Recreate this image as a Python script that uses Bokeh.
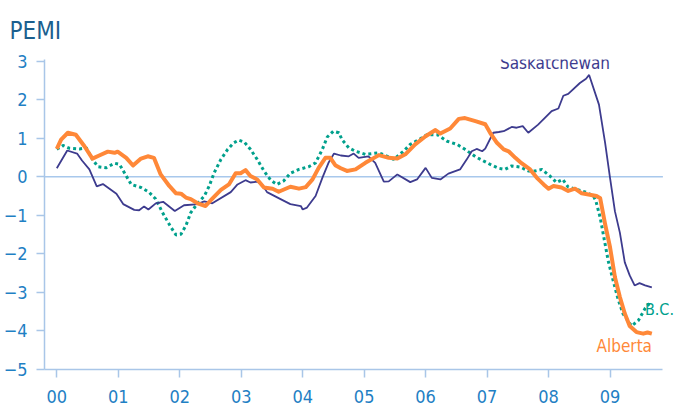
from bokeh.plotting import figure
from bokeh.models import Range1d, Label, FixedTicker
from bokeh.embed import file_html
from bokeh.resources import INLINE

# years since 2000
sask_x = [0.00, 0.17, 0.33, 0.41, 0.53, 0.65, 0.75, 0.97, 1.08, 1.26, 1.34, 1.42, 1.49, 1.61, 1.73,
          1.92, 2.07, 2.26, 2.40, 2.53, 2.83, 2.94, 3.07, 3.15, 3.26, 3.34, 3.42, 3.64, 3.80, 3.97,
          4.00, 4.07, 4.21, 4.32, 4.42, 4.51, 4.62, 4.75, 4.83, 4.91, 5.07, 5.18, 5.32, 5.40, 5.54,
          5.75, 5.86, 6.00, 6.10, 6.24, 6.37, 6.56, 6.67, 6.75, 6.83, 6.92, 6.97, 7.10, 7.19, 7.27,
          7.40, 7.48, 7.58, 7.67, 7.83, 8.05, 8.16, 8.24, 8.32, 8.51, 8.61, 8.66, 8.82, 8.92, 9.00,
          9.08, 9.16, 9.24, 9.32, 9.40, 9.48, 9.57, 9.68]
sask_y = [0.22, 0.68, 0.60, 0.42, 0.19, -0.25, -0.19, -0.44, -0.71, -0.86, -0.87, -0.77, -0.85, -0.69, -0.65,
          -0.89, -0.74, -0.72, -0.64, -0.69, -0.40, -0.20, -0.09, -0.15, -0.13, -0.20, -0.40, -0.58, -0.71, -0.76,
          -0.85, -0.80, -0.50, -0.03, 0.36, 0.60, 0.55, 0.53, 0.60, 0.49, 0.53, 0.36, -0.13, -0.12, 0.06,
          -0.14, -0.07, 0.23, -0.03, -0.07, 0.08, 0.19, 0.45, 0.66, 0.72, 0.66, 0.73, 1.14, 1.16, 1.18,
          1.29, 1.27, 1.31, 1.14, 1.35, 1.70, 1.77, 2.10, 2.15, 2.43, 2.54, 2.64, 1.87, 0.88, -0.03,
          -0.90, -1.45, -2.22, -2.56, -2.82, -2.76, -2.82, -2.87]

alta_x = [0.00, 0.07, 0.18, 0.31, 0.45, 0.58, 0.69, 0.83, 0.94, 0.99, 1.13, 1.24, 1.37, 1.48, 1.58,
          1.69, 1.83, 1.94, 2.02, 2.10, 2.18, 2.29, 2.42, 2.53, 2.67, 2.80, 2.91, 2.99, 3.07, 3.15,
          3.26, 3.37, 3.51, 3.61, 3.80, 3.94, 4.05, 4.16, 4.26, 4.37, 4.45, 4.53, 4.62, 4.72, 4.86,
          5.02, 5.24, 5.40, 5.54, 5.67, 5.83, 6.00, 6.16, 6.24, 6.40, 6.54, 6.64, 6.81, 6.97, 7.05,
          7.16, 7.27, 7.35, 7.46, 7.56, 7.70, 7.81, 7.92, 8.00, 8.08, 8.21, 8.32, 8.43, 8.54, 8.65,
          8.78, 8.84, 8.92, 9.00, 9.08, 9.16, 9.24, 9.32, 9.43, 9.54, 9.61, 9.68]
alta_y = [0.72, 0.96, 1.14, 1.09, 0.79, 0.47, 0.55, 0.65, 0.62, 0.65, 0.49, 0.29, 0.47, 0.53, 0.49,
          0.06, -0.24, -0.43, -0.44, -0.54, -0.58, -0.69, -0.76, -0.57, -0.34, -0.20, 0.09, 0.09, 0.17, 0.02,
          -0.07, -0.28, -0.31, -0.39, -0.26, -0.31, -0.27, -0.07, 0.23, 0.49, 0.49, 0.30, 0.22, 0.15, 0.19,
          0.36, 0.56, 0.49, 0.47, 0.58, 0.84, 1.05, 1.21, 1.12, 1.25, 1.50, 1.52, 1.44, 1.36, 1.14,
          0.88, 0.71, 0.66, 0.49, 0.35, 0.19, -0.03, -0.20, -0.31, -0.24, -0.28, -0.37, -0.31, -0.43, -0.46,
          -0.50, -0.56, -1.23, -1.83, -2.61, -3.12, -3.55, -3.87, -4.03, -4.07, -4.04, -4.07]

bc_x = [0.00, 0.10, 0.20, 0.37, 0.48, 0.58, 0.67, 0.80, 0.94, 1.02, 1.13, 1.21, 1.37, 1.50, 1.61,
        1.72, 1.86, 1.94, 2.02, 2.10, 2.18, 2.29, 2.40, 2.48, 2.56, 2.67, 2.78, 2.88, 2.96, 3.05,
        3.15, 3.26, 3.37, 3.48, 3.58, 3.69, 3.80, 3.94, 4.10, 4.21, 4.32, 4.40, 4.50, 4.59, 4.64,
        4.75, 4.86, 5.02, 5.24, 5.35, 5.48, 5.64, 5.75, 5.89, 6.02, 6.19, 6.35, 6.51, 6.64, 6.81,
        6.94, 7.05, 7.19, 7.29, 7.40, 7.54, 7.67, 7.78, 7.89, 8.02, 8.13, 8.23, 8.32, 8.46, 8.62,
        8.73, 8.77, 8.84, 8.89, 8.97, 9.05, 9.13, 9.21, 9.35, 9.46, 9.57, 9.66]
bc_y = [0.71, 0.81, 0.74, 0.72, 0.75, 0.45, 0.26, 0.23, 0.35, 0.32, 0.02, -0.20, -0.28, -0.40, -0.58,
        -0.93, -1.32, -1.51, -1.49, -1.27, -0.93, -0.69, -0.50, -0.24, 0.10, 0.45, 0.71, 0.88, 0.95, 0.90,
        0.71, 0.45, 0.15, -0.09, -0.20, -0.11, 0.09, 0.19, 0.26, 0.36, 0.71, 1.03, 1.18, 1.14, 0.96,
        0.75, 0.66, 0.58, 0.62, 0.55, 0.45, 0.66, 0.84, 0.96, 1.09, 1.09, 0.92, 0.84, 0.71, 0.52,
        0.41, 0.32, 0.22, 0.19, 0.28, 0.25, 0.15, 0.15, 0.19, 0.02, -0.15, -0.07, -0.27, -0.33, -0.41,
        -0.50, -0.63, -1.06, -1.49, -2.18, -2.69, -3.17, -3.55, -3.87, -3.73, -3.42, -3.25]

x_ticks = [0, 1, 2, 3, 4, 5, 6, 7, 8, 9]
x_tick_labels = ["00", "01", "02", "03", "04", "05", "06", "07", "08", "09"]
y_ticks = [-5, -4, -3, -2, -1, 0, 1, 2, 3]
x_axis_span = [-0.2, 9.86]   # extent of the drawn x axis
zero_level = [0, 0]

FONT = "'DejaVu Sans Condensed', Roboto, sans-serif"
SASK_C = "#3d3b8e"
ALTA_C = "#ff8838"
BC_C = "#00a08c"
TICK_C = "#1f80c4"
AXIS_C = "#a9c6e8"

p = figure(width=675, height=407, output_backend="svg", toolbar_location=None,
           x_range=Range1d(-0.2, 10.065), y_range=Range1d(-5, 3.04),
           min_border_left=35, min_border_right=0, min_border_top=58, min_border_bottom=38)
p.outline_line_color = None
p.xgrid.visible = False
p.ygrid.visible = False
p.background_fill_color = "white"

p.title.text = "PEMI"
p.title.text_font = FONT
p.title.text_font_size = "24px"
p.title.text_font_style = "normal"
p.title.text_color = "#1b5f8e"
p.title.align = "left"
p.title.offset = -35
p.title.standoff = 29

for ax in (p.xaxis[0], p.yaxis[0]):
    ax.axis_line_color = AXIS_C
    ax.axis_line_width = 1.5
    ax.major_tick_line_color = AXIS_C
    ax.major_tick_line_width = 1.5
    ax.major_tick_in = 0
    ax.major_tick_out = 8
    ax.minor_tick_line_color = None
    ax.major_label_text_font = FONT
    ax.major_label_text_font_size = "18px"
    ax.major_label_text_color = TICK_C

p.xaxis.ticker = FixedTicker(ticks=x_ticks)
p.xaxis.bounds = (x_axis_span[0], x_axis_span[1])
p.xaxis.major_label_overrides = {t: l for t, l in zip(x_ticks, x_tick_labels)}
p.xaxis.major_label_standoff = 12
p.yaxis.ticker = FixedTicker(ticks=y_ticks)
p.yaxis.major_label_standoff = 9

p.line(x_axis_span, zero_level, line_color="#a8c8ec", line_width=1.5)

p.line(bc_x, bc_y, line_color=BC_C, line_width=3, line_dash="3 3")
p.line(sask_x, sask_y, line_color=SASK_C, line_width=1.8)
p.line(alta_x, alta_y, line_color=ALTA_C, line_width=4, line_join="round")

p.add_layout(Label(x=8.105, y=2.94, text="Saskatchewan", text_font=FONT, text_font_size="17px",
                   text_color=SASK_C, text_align="center", text_baseline="middle"))
p.add_layout(Label(x=10.04, y=-3.45, text="B.C.", text_font=FONT, text_font_size="16px",
                   text_color=BC_C, text_align="right", text_baseline="middle"))
p.add_layout(Label(x=8.78, y=-4.39, text="Alberta", text_font=FONT, text_font_size="17px",
                   text_color=ALTA_C, text_align="left", text_baseline="middle"))

open("out.html", "w").write(file_html(p, INLINE))
